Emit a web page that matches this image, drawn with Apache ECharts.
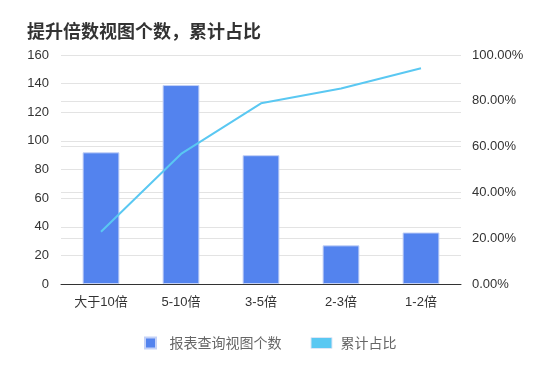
<!DOCTYPE html>
<html><head><meta charset="utf-8">
<script src="https://cdn.jsdelivr.net/npm/echarts@6/dist/echarts.min.js"></script>
<style>html,body{margin:0;padding:0;background:#fff}#c{width:556px;height:373px}</style>
</head><body><div id="c"></div>
<script>
const categories = ['大于10倍', '5-10倍', '3-5倍', '2-3倍', '1-2倍'];
const viewCounts = [92, 139, 90, 27, 36];
const cumulativeRatio = [22.8, 56.8, 78.9, 85.4, 94.2];
const leftTicks = [0, 160, 20];
const rightTicks = [0, 100, 20];

const font = '"Noto Sans CJK SC", "Liberation Sans", sans-serif';
const numFont = '"Liberation Sans", "Noto Sans CJK SC", sans-serif';
const chart = echarts.init(document.getElementById('c'));
chart.setOption({
  animation: false,
  textStyle: { fontFamily: font },
  title: {
    text: '提升倍数视图个数，累计占比',
    left: 22, top: 17,
    textStyle: { fontSize: 18, fontWeight: 'bold', color: '#333', fontFamily: font }
  },
  legend: {
    top: 331, left: 139,
    itemWidth: 28, itemHeight: 11, itemGap: 29,
    textStyle: { color: '#666', fontSize: 14, fontFamily: font },
    data: [
      { name: '报表查询视图个数', icon: 'path://M0,0h10v10h-10z' },
      { name: '累计占比', icon: 'path://M0,0h21v11h-21z', itemStyle: { color: '#5ac8f2', borderColor: '#dfe6f5', borderWidth: 1 } }
    ]
  },
  grid: { left: 61, right: 95, top: 55, bottom: 89 },
  xAxis: {
    type: 'category', data: categories,
    axisTick: { show: false },
    axisLine: { lineStyle: { color: '#333' } },
    axisLabel: { color: '#333', fontSize: 13, margin: 12, fontFamily: numFont }
  },
  yAxis: [
    { type: 'value', min: leftTicks[0], max: leftTicks[1], interval: leftTicks[2],
      axisLabel: { color: '#333', fontSize: 13, margin: 12, fontFamily: numFont },
      splitLine: { lineStyle: { color: '#e3e3e3' } } },
    { type: 'value', min: rightTicks[0], max: rightTicks[1], interval: rightTicks[2],
      axisLabel: { color: '#333', fontSize: 13, margin: 11, fontFamily: numFont, formatter: v => v.toFixed(2) + '%' },
      splitLine: { lineStyle: { color: '#e3e3e3' } } }
  ],
  series: [
    { name: '报表查询视图个数', type: 'bar', data: viewCounts, barWidth: '46%',
      itemStyle: { color: '#5383ee', borderColor: '#c3d1f7', borderWidth: 1 } },
    { name: '累计占比', type: 'line', yAxisIndex: 1, data: cumulativeRatio,
      showSymbol: false, symbol: 'none',
      lineStyle: { color: '#5ac8f2', width: 2 }, itemStyle: { color: '#5ac8f2' } }
  ]
});
</script></body></html>
